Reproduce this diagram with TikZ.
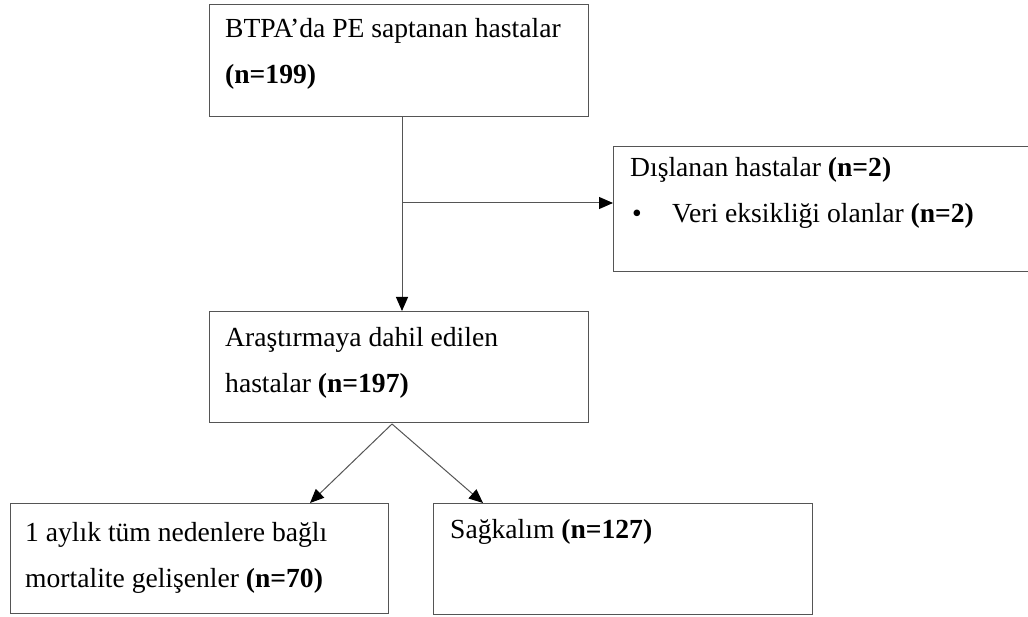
\documentclass[tikz,border=0pt]{standalone}
\usepackage{fontspec}
\setmainfont{Liberation Serif}
\usepackage{tikz}
\usetikzlibrary{arrows.meta}
\definecolor{cizgi}{RGB}{85,85,85}
\tikzset{arrow/.style={-{Triangle[length=14pt,width=12pt,color=black]}, draw=cizgi, line width=1pt}}
\tikzset{kutu/.style={draw=cizgi, line width=1pt, inner sep=0pt, anchor=north west}}
\tikzset{yazi/.style={inner sep=0pt, anchor=base west, align=left}}

\begin{document}
\begin{tikzpicture}[x=1pt,y=-1pt,font=\fontsize{27.6}{46}\selectfont]
        \clip (0,0) rectangle (1028,617);

        % kutular
        \node[kutu, minimum width=379pt, minimum height=112pt] (btpa) at (209,4) {};
        \node[kutu, minimum width=430pt, minimum height=125pt] (dislanan) at (613,146) {};
        \node[kutu, minimum width=379pt, minimum height=111pt] (arastirma) at (209,311) {};
        \node[kutu, minimum width=378pt, minimum height=110pt] (olum) at (10,503) {};
        \node[kutu, minimum width=379pt, minimum height=111pt] (sagkalim) at (433,503) {};

        % yazilar (iki satirda taban cizgisi son satir)
        \node[yazi] (btpayazi) at ([shift={(16,80)}]btpa.north west)
            {BTPA’da PE saptanan hastalar\\\textbf{(n=199)}};
        \node[yazi] (dislananyazi) at ([shift={(17,77)}]dislanan.north west)
            {Dışlanan hastalar \textbf{(n=2)}\\\makebox[42pt][l]{\hspace{2pt}\textbullet}Veri eksikliği olanlar \textbf{(n=2)}};
        \node[yazi] (arastirmayazi) at ([shift={(16,81)}]arastirma.north west)
            {Araştırmaya dahil edilen\\hastalar \textbf{(n=197)}};
        \node[yazi] (olumyazi) at ([shift={(15,84)}]olum.north west)
            {1 aylık tüm nedenlere bağlı\\mortalite gelişenler \textbf{(n=70)}};
        \node[yazi] (sagkalimyazi) at ([shift={(17,35)}]sagkalim.north west)
            {Sağkalım \textbf{(n=127)}};

        % oklar
        \coordinate (kol) at (402,203);
        \coordinate (ayrim) at (392,424);
        \draw[arrow] (btpa.south -| kol) -- (arastirma.north -| kol);
        \draw[arrow] (kol) -- (dislanan.west |- kol);
        \draw[arrow] (ayrim) -- ([xshift=300pt]olum.north west);
        \draw[arrow] (ayrim) -- ([xshift=50pt]sagkalim.north west);
\end{tikzpicture}
\end{document}
